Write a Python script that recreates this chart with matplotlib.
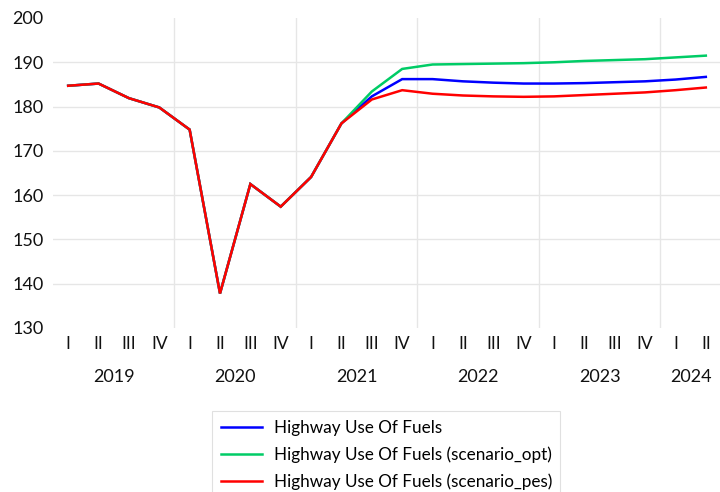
import matplotlib
matplotlib.use("Agg")
import matplotlib.pyplot as plt
from matplotlib.transforms import blended_transform_factory

plt.rcParams['font.family'] = ['Lato', 'DejaVu Sans']

quarters = ["I", "II", "III", "IV"] * 5 + ["I", "II"]
years = ["2019", "2020", "2021", "2022", "2023", "2024"]

history = [184.7, 185.2, 181.9, 179.8, 174.8, 137.8, 162.5, 157.4, 164.1, 176.2]
base = history + [182.3, 186.2, 186.2, 185.7, 185.4, 185.2, 185.2, 185.3, 185.5, 185.7, 186.1, 186.7]
opt = history + [183.4, 188.5, 189.5, 189.6, 189.7, 189.8, 190.0, 190.3, 190.5, 190.7, 191.1, 191.5]
pes = history + [181.6, 183.7, 182.9, 182.5, 182.3, 182.2, 182.3, 182.6, 182.9, 183.2, 183.7, 184.3]
labels = ["Highway Use Of Fuels", "Highway Use Of Fuels (scenario_opt)",
          "Highway Use Of Fuels (scenario_pes)"]
colors = ["#0000FF", "#00CC66", "#FF0000"]

fig = plt.figure(figsize=(7.2, 4.92), dpi=100)
ax = fig.add_axes([53 / 720, 1 - 328 / 492, 668 / 720, (328 - 18) / 492])

x = list(range(len(quarters)))
handles = []
for series, lab, c in zip([base, opt, pes], labels, colors):
    h, = ax.plot(x, series, color=c, lw=1.8, label=lab, solid_joinstyle='miter')
    handles.append(h)

ax.set_xlim(-0.5, len(quarters) - 0.5)
ax.set_ylim(130, 200)
ax.set_yticks(range(130, 201, 10))
ax.tick_params(axis='y', length=0, pad=7, labelsize=13, labelcolor='#111111')
ax.set_xticks(x)
ax.set_xticklabels(quarters)
ax.tick_params(axis='x', which='major', length=0, pad=6, labelsize=12.5, labelcolor='#111111')

ax.set_xticks([3.5 + 4 * i for i in range(5)], minor=True)
ax.tick_params(axis='x', which='minor', length=0)
ax.grid(True, which='minor', axis='x', color='#E6E6E6', lw=1)
ax.grid(True, which='major', axis='y', color='#E6E6E6', lw=1)
for gl, v in zip(ax.yaxis.get_gridlines(), range(130, 201, 10)):
    if v in (130, 200):
        gl.set_visible(False)
for s in ax.spines.values():
    s.set_visible(False)

trans = blended_transform_factory(ax.transData, fig.transFigure)
for i, yr in enumerate(years):
    start = 4 * i
    end = min(start + 3, len(quarters) - 1)
    ax.text((start + end) / 2, 1 - 377 / 492, yr, transform=trans, ha='center', va='center',
            fontsize=13, color='#111111')

leg = fig.legend(handles=handles, loc='upper left', bbox_to_anchor=(212 / 720, 1 - 411 / 492),
                 borderaxespad=0, frameon=True, fontsize=12.3, handlelength=2.4,
                 handletextpad=0.7, labelspacing=0.63, borderpad=0.5, fancybox=False,
                 edgecolor='#D9D9D9')
leg.get_frame().set_linewidth(0.8)

fig.savefig("out.png", dpi=100)
